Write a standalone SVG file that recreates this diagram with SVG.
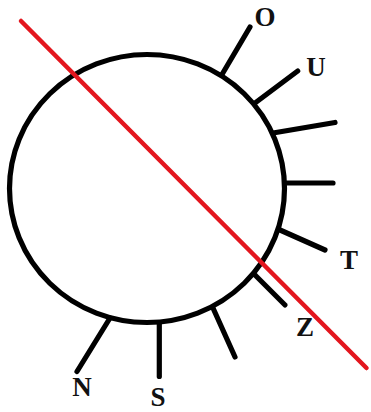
<svg xmlns="http://www.w3.org/2000/svg" width="371" height="412" viewBox="0 0 371 412">
<style>
.ring{fill:none;stroke:#000;stroke-width:5.2}
.spoke{stroke:#000;stroke-width:5.2;stroke-linecap:round}
.lbl{font-family:"Liberation Serif",serif;font-weight:bold;font-size:27px;fill:#111;text-anchor:middle}
.cut{stroke:#e3161e;stroke-width:4.5;stroke-linecap:round}
</style>
<rect width="371" height="412" fill="#fff"/>
<g id="ring"><ellipse class="ring" cx="147" cy="188.5" rx="137.5" ry="134"/></g>
<g id="spokes">
<line class="spoke" x1="221.7" y1="75" x2="250" y2="27"/>
<line class="spoke" x1="255" y1="103" x2="297.7" y2="71"/>
<line class="spoke" x1="273" y1="133" x2="335" y2="122.5"/>
<line class="spoke" x1="286" y1="183" x2="333" y2="183"/>
<line class="spoke" x1="280" y1="230" x2="325" y2="250"/>
<line class="spoke" x1="255" y1="275" x2="285" y2="305"/>
<line class="spoke" x1="213" y1="308" x2="235" y2="357"/>
<line class="spoke" x1="159.3" y1="323" x2="159.3" y2="376.5"/>
<line class="spoke" x1="110" y1="318" x2="77" y2="371.5"/>
</g>
<g id="labels">
<text class="lbl" x="265" y="25.5">O</text>
<text class="lbl" x="316" y="75.5">U</text>
<text class="lbl" x="349" y="268.5">T</text>
<text class="lbl" x="305" y="335.5">Z</text>
<text class="lbl" x="82" y="395.5">N</text>
<text class="lbl" x="158" y="405.5">S</text>
</g>
<g id="cutline"><line class="cut" x1="21" y1="21" x2="366.5" y2="368"/></g>
</svg>
